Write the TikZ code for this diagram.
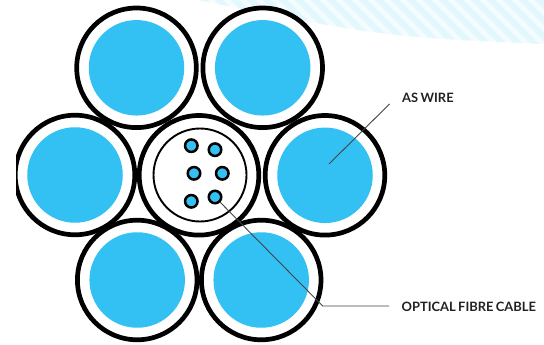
\documentclass[tikz,border=0pt]{standalone}
\usepackage{fontspec}
\setmainfont{Lato}
\newfontfamily\lblfam[WordSpace=0.75]{Lato}
\definecolor{wireblue}{HTML}{33C1F3}
\definecolor{stripeA}{HTML}{E2F8FC}
\definecolor{stripeB}{HTML}{F3FCFE}
\definecolor{leader}{HTML}{444444}
\definecolor{labeltext}{HTML}{222222}
\tikzset{
  strand/.style={circle,draw=black,fill=white,line width=4.7pt,minimum size=119.6pt,inner sep=0pt},
  core/.style={circle,fill=wireblue,draw=none,minimum size=95.5pt,inner sep=0pt,outer sep=0pt},
  innerring/.style={circle,draw=black,fill=white,line width=1.9pt,minimum size=93pt,inner sep=0pt},
  fibre/.style={circle,draw=black,fill=wireblue,line width=2.5pt,minimum size=12.5pt,inner sep=0pt},
  leaderline/.style={draw=leader,line width=0.9pt},
  lbl/.style={anchor=west,inner sep=0pt,text=labeltext,font=\lblfam\fontsize{12.9pt}{14pt}\selectfont\bfseries}
}
\begin{document}
\begin{tikzpicture}[x=1pt,y=-1pt]
\useasboundingbox (0,0) rectangle (544,345);
\fill[white] (0,0) rectangle (544,345);
\begin{scope}
\clip (198,0) .. controls (250,10) and (300,22) .. (380,33) .. controls (440,40) and (500,42) .. (544,44) -- (544,0) -- cycle;
\fill[stripeB] (0,0) rectangle (544,60);
\foreach \k in {0,...,30}{
  \draw[stripeA,line width=6pt] ({150+\k*16},-5) -- ({220+\k*16},65);
}
\end{scope}
\node[strand] (s1) at (136.5,67.8) {};
\node[strand] (s2) at (262.7,67.8) {};
\node[strand] (s3) at (75,175) {};
\node[strand] (s4) at (325,175.3) {};
\node[strand] (s5) at (137.2,280) {};
\node[strand] (s6) at (261.2,280) {};
\node[strand] (s0) at (199,175.3) {};
\foreach \n in {1,...,6}{
  \node[core] (c\n) at (s\n) {};
}
\fill[white] (0,100) rectangle (16,250);
\node[innerring] (ring) at (200,175) {};
\node[fibre] (f1) at (191.3,145.7) {};
\node[fibre] (f2) at (215,149.7) {};
\node[fibre] (f3) at (194,173.3) {};
\node[fibre] (f4) at (222.3,173.3) {};
\node[fibre] (f5) at (191.3,201.3) {};
\node[fibre] (f6) at (215,197) {};
\node[lbl] (aswire) at (402,97.6) {AS WIRE};
\node[lbl] (ofc) at (401.5,306.6) {OPTICAL FIBRE CABLE};
\coordinate (wireend) at (329,164);
\coordinate (wirestart) at (389.5,104);
\coordinate (elbow) at (322.7,306);
\coordinate (ofcend) at (389,306);
\draw[leaderline] (wirestart) -- (wireend);
\draw[leaderline] (f6) -- (elbow) -- (ofcend);
\end{tikzpicture}
\end{document}
